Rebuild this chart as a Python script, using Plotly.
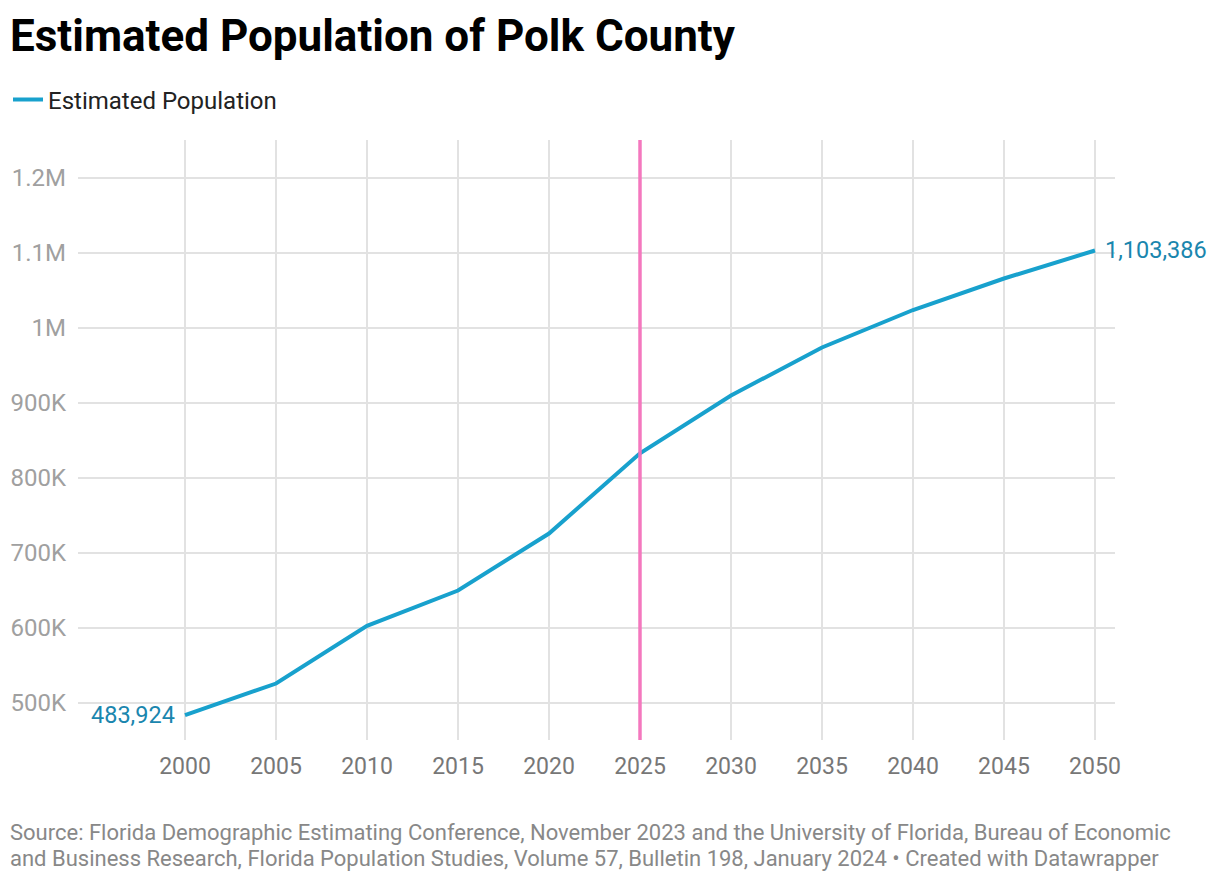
import plotly.graph_objects as go

# data
years = [2000, 2005, 2010, 2015, 2020, 2025, 2030, 2035, 2040, 2045, 2050]
population = [483924, 526000, 603000, 650000, 726000, 833000, 910000, 974000, 1024000, 1066000, 1103386]
marker_year = 2025
y_tickvals = [500000, 600000, 700000, 800000, 900000, 1000000, 1100000, 1200000]
y_ticktext = ["500K", "600K", "700K", "800K", "900K", "1M", "1.1M", "1.2M"]
x_tickvals = years

title_text = "Estimated Population of Polk County"
series_name = "Estimated Population"
source_lines = [
    "Source: Florida Demographic Estimating Conference, November 2023 and the University of Florida, Bureau of Economic",
    "and Business Research, Florida Population Studies, Volume 57, Bulletin 198, January 2024 • Created with Datawrapper",
]

# the page body adds an 8px margin, so the figure is shrunk by that much
OFF = 8
W, H = 1220 - OFF, 882 - OFF
M = dict(l=78 - OFF, r=105, t=140 - OFF, b=142)
plot_w = W - M["l"] - M["r"]
plot_h = H - M["t"] - M["b"]

LINE_BLUE = "#18a1cd"
LABEL_BLUE = "#1a86ae"
PINK = "#f573bd"


def px_x(px):
    # window pixel -> paper coordinate
    return (px - OFF - M["l"]) / plot_w


def px_y(px):
    return (H - M["b"] - (px - OFF)) / plot_h


fig = go.Figure()
fig.add_trace(go.Scatter(
    x=years,
    y=population,
    mode="lines",
    name=series_name,
    line=dict(color=LINE_BLUE, width=4),
    hoverinfo="x+y",
))

fig.add_shape(
    type="line", xref="x", yref="paper",
    x0=marker_year, x1=marker_year, y0=0, y1=1,
    line=dict(color=PINK, width=3.5), opacity=0.95, layer="above",
)

# end labels
fig.add_annotation(x=years[0], y=population[0], text=f"{population[0]:,}",
                   showarrow=False, xanchor="right", yanchor="middle", xshift=-8,
                   font=dict(family="Roboto", size=23.5, color=LABEL_BLUE))
fig.add_annotation(x=years[-1], y=population[-1], text=f"{population[-1]:,}",
                   showarrow=False, xanchor="left", yanchor="middle", xshift=8,
                   font=dict(family="Roboto", size=23.5, color=LABEL_BLUE))

for i, line in enumerate(source_lines):
    fig.add_annotation(xref="paper", yref="paper", x=px_x(8), y=px_y(832 + 26 * i),
                       text=line, showarrow=False, xanchor="left", yanchor="middle",
                       align="left", font=dict(family="Roboto", size=22, color="#888888"))

fig.update_layout(
    width=W, height=H,
    margin=M,
    plot_bgcolor="white",
    paper_bgcolor="white",
    font=dict(family="Roboto", size=23, color="#333333"),
    title=dict(text=title_text, xref="container", yref="container",
               x=(10 - OFF) / W, xanchor="left", y=1 - (36 - OFF) / H, yanchor="middle",
               font=dict(family="Roboto", size=44, color="#000000", weight="bold")),
    showlegend=True,
    legend=dict(orientation="h", xref="container", yref="container",
                x=0, xanchor="left", y=1 - (100 - OFF) / H, yanchor="middle",
                font=dict(family="Roboto", size=24, color="#222222"),
                itemwidth=30),
    xaxis=dict(
        range=[1994.12, 2051.1],
        tickvals=x_tickvals,
        showgrid=True, gridcolor="#e2e2e2", gridwidth=2,
        zeroline=False, showline=False, automargin=False,
        tickfont=dict(family="Roboto", size=23, color="#777777"),
        ticklabelstandoff=10,
    ),
    yaxis=dict(
        range=[450700, 1250700],
        tickvals=y_tickvals, ticktext=y_ticktext,
        showgrid=True, gridcolor="#e2e2e2", gridwidth=2,
        zeroline=False, showline=False, automargin=False,
        tickfont=dict(family="Roboto", size=24, color="#a0a0a0"),
        ticklabelstandoff=11,
    ),
)

fig.write_html("out.html")
